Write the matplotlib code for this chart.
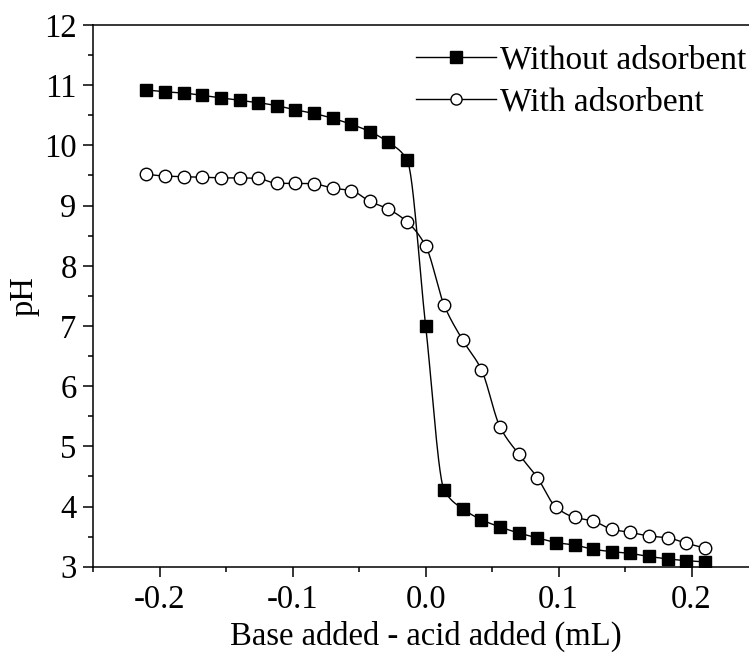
import numpy as np
import matplotlib
matplotlib.use("Agg")
import matplotlib.pyplot as plt
from matplotlib.ticker import MultipleLocator

plt.rcParams['font.family'] = ['Liberation Serif', 'DejaVu Serif']
plt.rcParams['axes.unicode_minus'] = False

# Data
x_vals = np.round(np.arange(-0.21, 0.2101, 0.014), 3)
ph_without = [10.92, 10.89, 10.87, 10.83, 10.79, 10.75, 10.71, 10.66, 10.59, 10.53,
              10.45, 10.35, 10.23, 10.05, 9.76, 7.00, 4.27, 3.96, 3.78, 3.66,
              3.56, 3.48, 3.40, 3.36, 3.29, 3.25, 3.22, 3.17, 3.13, 3.10, 3.08]
ph_with = [9.52, 9.49, 9.48, 9.47, 9.46, 9.46, 9.45, 9.37, 9.37, 9.36,
           9.29, 9.25, 9.07, 8.94, 8.73, 8.33, 7.34, 6.76, 6.27, 5.32,
           4.87, 4.48, 3.99, 3.82, 3.76, 3.62, 3.57, 3.51, 3.48, 3.39, 3.31]
labels = ["Without adsorbent", "With adsorbent"]
x_ticks = [-0.2, -0.1, 0.0, 0.1, 0.2]
x_ticklabels = ["-0.2", "-0.1", "0.0", "0.1", "0.2"]
y_ticks = list(range(3, 13))


def pchip(x, y, xs):
    x = np.asarray(x, float)
    y = np.asarray(y, float)
    h = np.diff(x)
    d = np.diff(y) / h
    n = len(x)
    m = np.zeros(n)
    for k in range(1, n - 1):
        if d[k - 1] * d[k] > 0:
            w1 = 2 * h[k] + h[k - 1]
            w2 = h[k] + 2 * h[k - 1]
            m[k] = (w1 + w2) / (w1 / d[k - 1] + w2 / d[k])
    m[0] = d[0]
    m[-1] = d[-1]
    idx = np.clip(np.searchsorted(x, xs) - 1, 0, n - 2)
    t = (xs - x[idx]) / h[idx]
    h00 = 2 * t**3 - 3 * t**2 + 1
    h10 = t**3 - 2 * t**2 + t
    h01 = -2 * t**3 + 3 * t**2
    h11 = t**3 - t**2
    return h00 * y[idx] + h10 * h[idx] * m[idx] + h01 * y[idx + 1] + h11 * h[idx] * m[idx + 1]


W, H = 749, 655
fig = plt.figure(figsize=(W / 100, H / 100), dpi=100)
left, right, bottom, top = 93.3, 758.0, 566.7, 25.0
ax = fig.add_axes([left / W, (H - bottom) / H, (right - left) / W, (bottom - top) / H])

xs = np.linspace(x_vals[0], x_vals[-1], 800)
ax.plot(xs, pchip(x_vals, ph_without, xs), color='black', lw=1.0, zorder=2)
ax.plot(xs, pchip(x_vals, ph_with, xs), color='black', lw=1.0, zorder=2)
ax.plot(x_vals, ph_without, ls='none', marker='s', ms=8, mfc='black', mec='black', zorder=3)
ax.plot(x_vals, ph_with, ls='none', marker='o', ms=9, mfc='white', mec='black', mew=1.0, zorder=3)

# legend handles
h1, = ax.plot([], [], color='black', lw=1.0, marker='s', ms=8, mfc='black', mec='black')
h2, = ax.plot([], [], color='black', lw=1.0, marker='o', ms=8, mfc='white', mec='black', mew=1.0)
fig.legend([h1, h2], labels, loc='upper left', bbox_to_anchor=(416 / W, 1 - 45 / H),
           frameon=False, fontsize=24, handlelength=2.4, handletextpad=0.12,
           labelspacing=0.34, borderpad=0, borderaxespad=0)

ax.set_xlim(-0.25, 0.25)
ax.set_ylim(3, 12)
ax.set_xticks(x_ticks)
ax.set_xticklabels(x_ticklabels)
ax.set_yticks(y_ticks)
ax.xaxis.set_minor_locator(MultipleLocator(0.05))
ax.yaxis.set_minor_locator(MultipleLocator(0.5))
ax.tick_params(which='major', direction='out', length=7, width=1.1, labelsize=23.5, pad=5)
ax.tick_params(which='minor', direction='out', length=3.8, width=1.1)
ax.tick_params(axis='x', which='major', pad=6)
ax.tick_params(top=False, right=False)
for s in ax.spines.values():
    s.set_linewidth(1.1)

ax.set_xlabel("Base added - acid added (mL)", fontsize=23.5, labelpad=4)
ax.set_ylabel("pH", fontsize=23.5, labelpad=3)

fig.savefig("out.png", dpi=100)
